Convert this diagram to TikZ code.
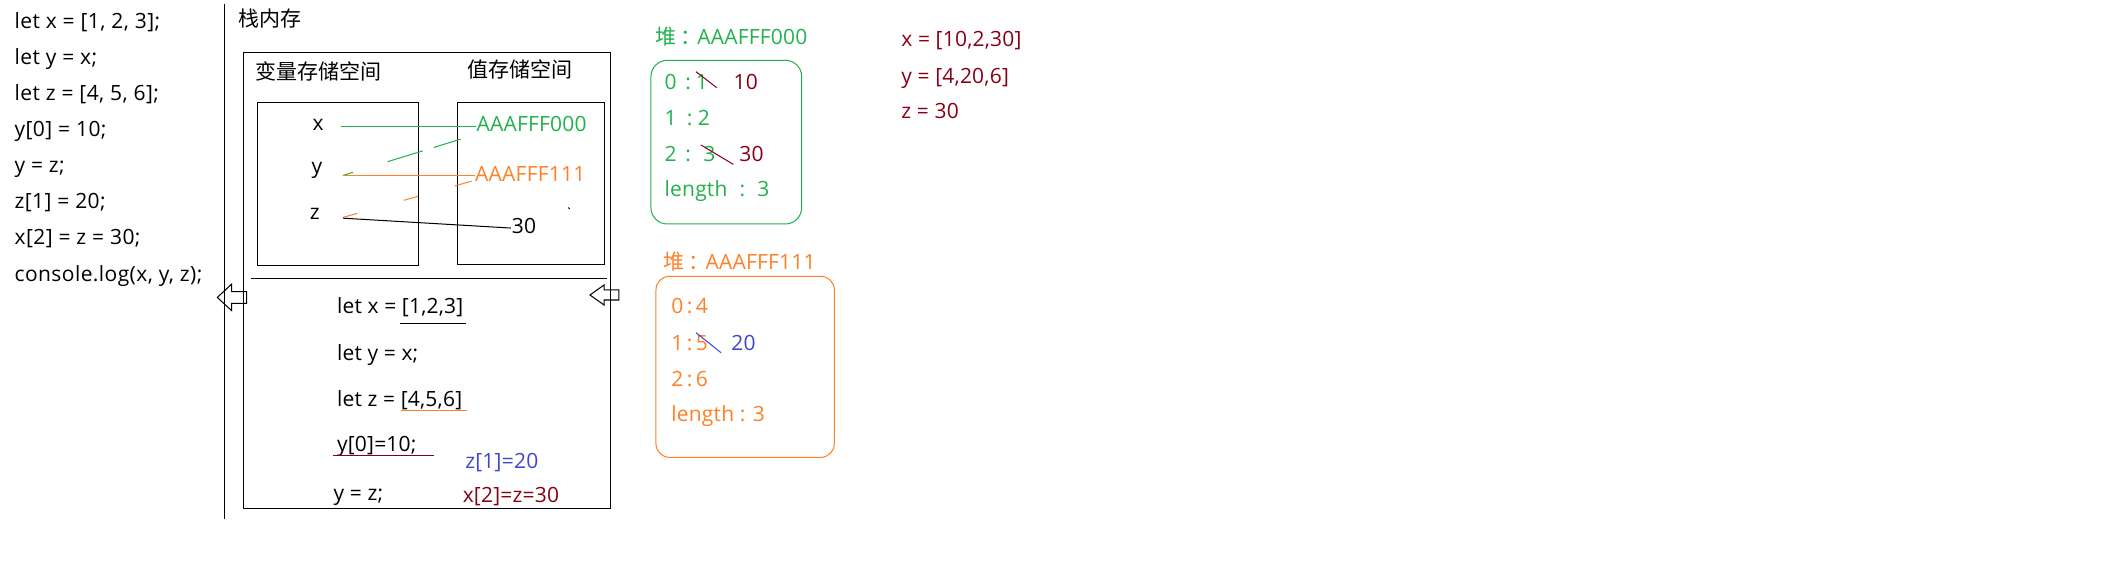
\documentclass[tikz,border=0pt]{standalone}
\usepackage{fontspec}
\setmainfont{Open Sans}[LetterSpace=1]
\newfontfamily\codefont{Open Sans}[LetterSpace=2]
\newfontfamily\cjk{Noto Sans CJK SC}
\usetikzlibrary{calc}
\definecolor{pgreen}{HTML}{22B14C}
\definecolor{porange}{HTML}{FF7F27}
\definecolor{pdred}{HTML}{880015}
\definecolor{pblue}{HTML}{3F48CC}
\tikzset{
  txt/.style={font=\fontsize{15.5}{18}\selectfont, inner sep=0pt, anchor=base west},
  codetxt/.style={txt, font=\fontsize{15.5}{18}\selectfont\codefont},
  frame/.style={draw=black, line width=0.75pt},
  thin/.style={line width=0.75pt},
  hollowarrow/.style={draw=black, line width=0.75pt, line join=miter},
  heapbox/.style={line width=0.75pt, rounded corners=#1},
}
\newcommand{\heaplabel}[1]{{\cjk 堆\kern3pt：\kern-3pt}#1}
\begin{document}
\begin{tikzpicture}[x=1pt,y=-1pt]
\useasboundingbox (0,0) rectangle (1560.1,425.05);

% left code
\node[codetxt] (c1) at (10.6,21.2) {let x = [1, 2, 3];};
\node[codetxt] (c2) at (10.6,47.8) {let y = x;};
\node[codetxt] (c3) at (10.6,74.4) {let z = [4, 5, 6];};
\node[codetxt] (c4) at (10.6,101.0) {y[0] = 10;};
\node[codetxt] (c5) at (10.6,127.6) {y = z;};
\node[codetxt] (c6) at (10.6,154.2) {z[1] = 20;};
\node[codetxt] (c7) at (10.6,180.8) {x[2] = z = 30;};
\node[codetxt] (c8) at (10.6,207.4) {console.log(x, y, z);};

% vertical separator
\coordinate (sepT) at (166,3);
\coordinate (sepB) at (166,383);
\draw[thin] (sepT) -- (sepB);

\node[txt] (stack) at (176,19.4) {\cjk 栈内存};

% outer box and inner boxes
\node[frame, inner sep=0pt, minimum width=271pt, minimum height=336pt, anchor=north west] (outer) at (179,38.6) {};
\node[frame, inner sep=0pt, minimum width=118.8pt, minimum height=120.4pt, anchor=north west] (varbox) at (189.7,75.4) {};
\node[frame, inner sep=0pt, minimum width=108.5pt, minimum height=119.4pt, anchor=north west] (valbox) at (337.3,75.4) {};
\node[txt] (varlab) at (188,58.7) {\cjk 变量存储空间};
\node[txt] (vallab) at (345,57.5) {\cjk 值存储空间};

\coordinate (hsL) at (185.5,205.2);
\coordinate (hsR) at (448,205.2);
\draw[thin] (hsL) -- (hsR);

% variables and values
\node[txt] (vx) at (230.5,96.6) {x};
\node[txt] (vy) at (229.8,127.8) {y};
\node[txt] (vz) at (228.5,162.2) {z};
\node[txt, text=pgreen] (adrA) at (351.5,97) {AAAFFF000};
\node[txt, text=porange] (adrB) at (350.5,134) {AAAFFF111};
\node[txt] (v30) at (377.5,172) {30};

% connectors
\coordinate (gx1) at (251.5,93.1);
\coordinate (gx2) at (adrA.west |- gx1);
\draw[thin, pgreen] (gx1) -- (gx2);
\coordinate (gy1) at (253,129.5);
\coordinate (gy2) at (340,102.7);
\draw[thin, pgreen] (gy1) -- ($(gy1)!0.087!(gy2)$);
\draw[thin, pgreen] ($(gy1)!0.379!(gy2)$) -- ($(gy1)!0.678!(gy2)$);
\draw[thin, pgreen] ($(gy1)!0.770!(gy2)$) -- (gy2);

\coordinate (oy1) at (253,129.7);
\coordinate (oy2) at (adrB.west |- oy1);
\draw[thin, porange] (oy1) -- (oy2);
\coordinate (oz1) at (253.3,160.4);
\coordinate (oz2) at (348,133.7);
\draw[thin, porange] (oz1) -- ($(oz1)!0.109!(oz2)$);
\draw[thin, porange] ($(oz1)!0.471!(oz2)$) -- ($(oz1)!0.583!(oz2)$);
\draw[thin, porange] ($(oz1)!0.871!(oz2)$) -- (oz2);

\coordinate (bz1) at (253,161);
\coordinate (bz2) at (377,168.3);
\draw[thin] (bz1) -- (bz2);
\coordinate (dot1) at (419.4,153.2);
\coordinate (dot2) at (420.4,154.2);
\draw[thin] (dot1) -- (dot2);

% hollow arrows
\draw[hollowarrow] (160.4,219.5) -- (171,209.6) -- (171,215.3) -- (182,215.3) -- (182,223.8) -- (171,223.8) -- (171,229.3) -- cycle;
\draw[hollowarrow] (435.4,217.7) -- (445.8,210.3) -- (445.8,214) -- (456.8,214) -- (456.8,221.4) -- (445.8,221.4) -- (445.8,225.1) -- cycle;

% lower code
\node[txt] (l1) at (248.5,231.2) {let x = [1,2,3]};
\node[txt] (l2) at (248.5,265.7) {let y = x;};
\node[txt] (l3) at (248.5,300.1) {let z = [4,5,6]};
\node[txt] (l4) at (248.5,333.3) {y[0]=10;};
\node[txt] (l5) at (246,369) {y = z;};
\node[txt, text=pblue] (l6) at (343.2,345.6) {z[1]=20};
\node[txt, text=pdred] (l7) at (341.3,371) {x[2]=z=30};
\coordinate (u1a) at (295.1,238.6); \coordinate (u1b) at (344,238.6);
\draw[thin] (u1a) -- (u1b);
\coordinate (u2a) at (295.6,303.3); \coordinate (u2b) at (344.9,303.3);
\draw[thin, porange] (u2a) -- (u2b);
\coordinate (u3a) at (246,336.5); \coordinate (u3b) at (320,336.5);
\draw[thin, pdred] (u3a) -- (u3b);

% heap green
\node[txt, text=pgreen] (hA) at (483.4,33.2) {\heaplabel{AAAFFF000}};
\draw[heapbox=12pt, pgreen] (480.4,44.5) rectangle (591.6,165.3);
\node[txt, text=pgreen] (hA0) at (490.3,65.9) {0\hspace{6.5pt}:\hspace{3.5pt}1};
\node[txt, text=pdred] (hA0n) at (541.2,65.9) {10};
\node[txt, text=pgreen] (hA1) at (490.3,92.3) {1\hspace{7.5pt}:\hspace{4pt}2};
\node[txt, text=pgreen] (hA2) at (490.3,119.3) {2\hspace{6.5pt}:\hspace{9pt}3};
\node[txt, text=pdred] (hA2n) at (545.4,119.3) {30};
\node[txt, text=pgreen] (hA3) at (490.3,145.1) {length\hspace{9pt}:\hspace{9pt}3};
\coordinate (s1a) at (513.6,52.9); \coordinate (s1b) at (528.9,64.7);
\draw[thin, pdred] (s1a) -- (s1b);
\coordinate (s2a) at (517.3,107); \coordinate (s2b) at (541.2,121.3);
\draw[thin, pdred] (s2a) -- (s2b);

% heap orange
\node[txt, text=porange] (hB) at (489.5,198.8) {\heaplabel{AAAFFF111}};
\draw[heapbox=10pt, porange] (484.1,203.9) rectangle (615.7,337.5);
\node[txt, text=porange] (hB0) at (495.2,231.7) {0\,:\,4};
\node[txt, text=porange] (hB1) at (495.2,258.3) {1\,:\,5};
\node[txt, text=pblue] (hB1n) at (539.5,258.3) {20};
\node[txt, text=porange] (hB2) at (495.2,284.9) {2\,:\,6};
\node[txt, text=porange] (hB3) at (495.2,311.2) {length : 3};
\coordinate (s3a) at (513.6,245.5); \coordinate (s3b) at (532.1,260.3);
\draw[thin, pblue] (s3a) -- (s3b);

% results
\node[txt, text=pdred] (rx) at (665,34.4) {x = [10,2,30]};
\node[txt, text=pdred] (ry) at (665,61.5) {y = [4,20,6]};
\node[txt, text=pdred] (rz) at (665,87.3) {z = 30};
\end{tikzpicture}
\end{document}
